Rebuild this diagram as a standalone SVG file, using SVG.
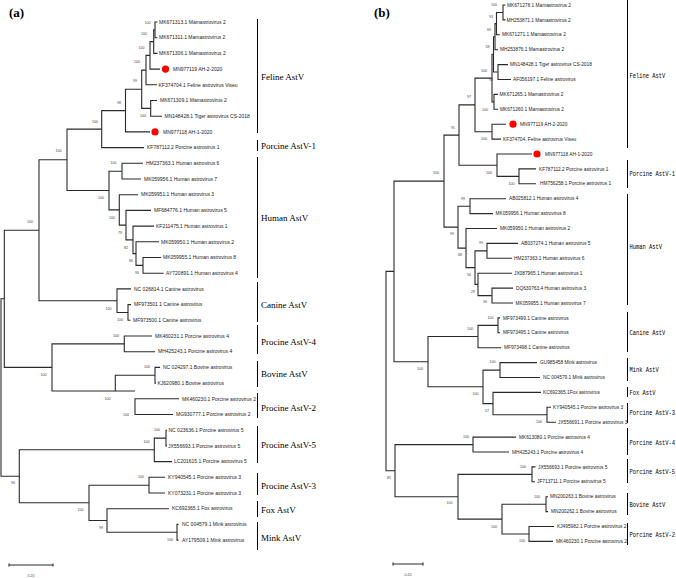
<svg xmlns="http://www.w3.org/2000/svg" width="676" height="578" viewBox="0 0 676 578">
<style>
.br{fill:none;stroke:#2a2a2a;stroke-width:1.1}
.bar{stroke:#000;stroke-width:1}
.la{font-family:"Liberation Sans",Arial,sans-serif;font-size:5px;fill:#222}
.lb{font-family:"Liberation Sans",Arial,sans-serif;font-size:4.8px;fill:#222}
.bs{font-family:"Liberation Sans",Arial,sans-serif;font-size:3.6px;fill:#444;text-anchor:middle}
.ga{font-family:"Liberation Serif","Times New Roman",serif;font-size:9px;fill:#000}
.gb{font-family:"Liberation Mono","Courier New",monospace;font-size:6.8px;fill:#000}
.dot{fill:#f00}
.pl{font-family:"Liberation Serif","Times New Roman",serif;font-size:13px;font-weight:bold;fill:#000}
</style>
<rect width="676" height="578" fill="#fff"/>
<text class="pl" x="9" y="17">(a)</text>
<text class="pl" x="374" y="17">(b)</text>

<g id="connectors">
<!-- panel a -->
<path class="br" d="M157.5 22H155V37.7H157.5"/>
<path class="br" d="M155 29.9H153.7V53.4H157.5"/>
<path class="br" d="M153.7 41.6H150V69.1H160"/>
<path class="br" d="M150 55.4H146V84.8H157"/>
<path class="br" d="M157 100.5H150.7V116.2H162"/>
<path class="br" d="M146 70.1H141.7V108.4H150.7"/>
<path class="br" d="M141.7 89.2H125.5V131.9H150"/>
<path class="br" d="M125.5 110.6H101.7V147.6H144"/>
<path class="br" d="M143 163.3H122V179H141"/>
<path class="br" d="M161 257.5H143V273.2H163.5"/>
<path class="br" d="M159 241.8H136V265.4H143"/>
<path class="br" d="M154 226.1H133V253.6H136"/>
<path class="br" d="M151 210.4H126V239.9H133"/>
<path class="br" d="M138 194.7H119.3V225.1H126"/>
<path class="br" d="M122 171.2H109V209.9H119.3"/>
<path class="br" d="M101.7 129.1H67V190.5H109"/>
<path class="br" d="M131 304.6H128V320.3H130.5"/>
<path class="br" d="M131 288.9H117V312.5H128"/>
<path class="br" d="M67 159.8H39V300.7H117"/>
<path class="br" d="M152 336H124.3V351.7H155"/>
<path class="br" d="M160 367.4H155V383.1H156"/>
<path class="br" d="M179 398.8H135V414.5H173"/>
<path class="br" d="M155 375.3H115.3V391H135"/>
<path class="br" d="M124.3 343.9H52V391H115.3"/>
<path class="br" d="M39 230.3H4.3V367.4H52"/>
<path class="br" d="M167 430.2H166V445.9H167"/>
<path class="br" d="M166 438.1H154.3V461.6H172"/>
<path class="br" d="M165 477.3H149V493H165"/>
<path class="br" d="M178.5 524.4H177V540.1H178.5"/>
<path class="br" d="M169 508.7H107V532.3H177"/>
<path class="br" d="M149 485.2H89V520.5H107"/>
<path class="br" d="M154.3 449.8H19.3V502.8H89"/>
<path class="br" d="M4.3 298.8H1V476.3H19.3"/>
<!-- panel b -->
<path class="br" d="M505.5 5H503V19.9H505.5"/>
<path class="br" d="M503 12.5H496.5V34.8H500"/>
<path class="br" d="M496.5 23.6H495V49.7H498"/>
<path class="br" d="M508 64.6H498V79.5H511"/>
<path class="br" d="M495 36.7H493.5V72H498"/>
<path class="br" d="M498 94.4H494V109.3H498"/>
<path class="br" d="M493.5 54.3H492V101.9H494"/>
<path class="br" d="M506 124.2H492V139.1H501"/>
<path class="br" d="M492 78.1H475V131.7H492"/>
<path class="br" d="M536 168.9H519V183.8H536"/>
<path class="br" d="M532 154H497V176.4H519"/>
<path class="br" d="M475 104.9H459V165.2H497"/>
<path class="br" d="M506 198.7H470V213.6H493"/>
<path class="br" d="M518 243.4H487V258.3H512"/>
<path class="br" d="M513 288.1H492V303H513"/>
<path class="br" d="M512 273.2H478V295.6H492"/>
<path class="br" d="M487 250.9H475V284.4H478"/>
<path class="br" d="M497 228.5H466V267.6H475"/>
<path class="br" d="M470 206.2H458V248.1H466"/>
<path class="br" d="M459 135.1H444V227.1H458"/>
<path class="br" d="M500 317.9H498V332.8H500"/>
<path class="br" d="M498 325.4H478V347.7H501"/>
<path class="br" d="M537 362.6H500V377.5H540"/>
<path class="br" d="M551 407.3H547V422.2H556"/>
<path class="br" d="M541 392.4H493V414.8H547"/>
<path class="br" d="M500 370.1H483V403.6H493"/>
<path class="br" d="M478 336.5H428V386.8H483"/>
<path class="br" d="M444 181.1H394V361.7H428"/>
<path class="br" d="M516 437.1H473V452H509"/>
<path class="br" d="M535.5 466.9H532V481.8H535"/>
<path class="br" d="M548 496.7H546V511.6H548"/>
<path class="br" d="M554 526.5H529V541.4H553"/>
<path class="br" d="M546 504.2H502V534H529"/>
<path class="br" d="M532 474.4H458V519.1H502"/>
<path class="br" d="M473 444.6H395V496.8H458"/>
<path class="br" d="M394 271.4H386V470.7H395"/>
<!-- scale bars -->
<path class="br" d="M9 565H53M9 563.5V566.5M53 563.5V566.5" stroke="#777"/>
<path class="br" d="M393 564H423M393 562.5V565.5M423 562.5V565.5" stroke="#777"/>
</g>
<text class="bs" x="31" y="577">0.20</text>
<text class="bs" x="408" y="576">0.20</text>

<g id="bootstrap-a">
<text class="bs" x="147.5" y="24.3">100</text>
<text class="bs" x="144" y="34.8">100</text>
<text class="bs" x="141.5" y="48.8">100</text>
<text class="bs" x="137" y="63.3">100</text>
<text class="bs" x="135" y="82.3">99</text>
<text class="bs" x="119" y="103.8">98</text>
<text class="bs" x="143" y="117.3">100</text>
<text class="bs" x="95" y="123.3">100</text>
<text class="bs" x="58.5" y="152.3">100</text>
<text class="bs" x="113.5" y="164.3">100</text>
<text class="bs" x="101" y="199.3">100</text>
<text class="bs" x="112" y="218.8">100</text>
<text class="bs" x="120" y="233.8">79</text>
<text class="bs" x="126" y="249.3">82</text>
<text class="bs" x="131" y="262.3">86</text>
<text class="bs" x="137" y="274.3">96</text>
<text class="bs" x="30" y="223.3">100</text>
<text class="bs" x="108.5" y="310.3">100</text>
<text class="bs" x="120" y="321.3">100</text>
<text class="bs" x="116" y="337.3">100</text>
<text class="bs" x="43.5" y="376.3">100</text>
<text class="bs" x="147" y="368.3">100</text>
<text class="bs" x="107.5" y="399.8">100</text>
<text class="bs" x="126" y="415.8">100</text>
<text class="bs" x="157" y="431.3">100</text>
<text class="bs" x="146.5" y="443.3">100</text>
<text class="bs" x="13" y="484.3">96</text>
<text class="bs" x="141" y="478.3">100</text>
<text class="bs" x="80.5" y="511.3">100</text>
<text class="bs" x="101" y="529.3">99</text>
<text class="bs" x="170" y="541.3">100</text>
</g>

<g id="bootstrap-b">
<text class="bs" x="494" y="6.3">100</text>
<text class="bs" x="491" y="18.3">93</text>
<text class="bs" x="489" y="30.8">69</text>
<text class="bs" x="487.5" y="48.3">58</text>
<text class="bs" x="484" y="72.3">100</text>
<text class="bs" x="491" y="80.8">94</text>
<text class="bs" x="485" y="110.8">100</text>
<text class="bs" x="484" y="140.3">100</text>
<text class="bs" x="469" y="98.3">97</text>
<text class="bs" x="453" y="129.3">95</text>
<text class="bs" x="489" y="174.3">100</text>
<text class="bs" x="511.5" y="185.3">100</text>
<text class="bs" x="436" y="174.3">100</text>
<text class="bs" x="463" y="200.3">99</text>
<text class="bs" x="452" y="235.3">99</text>
<text class="bs" x="460" y="256.3">68</text>
<text class="bs" x="481" y="244.3">99</text>
<text class="bs" x="469" y="276.3">56</text>
<text class="bs" x="473" y="293.3">29</text>
<text class="bs" x="485" y="303.3">90</text>
<text class="bs" x="490.5" y="319.3">100</text>
<text class="bs" x="470" y="330.3">100</text>
<text class="bs" x="420" y="369.8">100</text>
<text class="bs" x="492.5" y="363.3">100</text>
<text class="bs" x="475.5" y="394.8">100</text>
<text class="bs" x="487" y="411.8">57</text>
<text class="bs" x="539" y="423.3">100</text>
<text class="bs" x="466" y="438.3">100</text>
<text class="bs" x="389" y="479.3">85</text>
<text class="bs" x="449.5" y="504.3">100</text>
<text class="bs" x="523" y="467.8">100</text>
<text class="bs" x="537" y="497.8">100</text>
<text class="bs" x="494" y="528.3">100</text>
<text class="bs" x="522" y="542.3">100</text>
</g>

<!-- panel a leaves -->
<g id="a-MK671313"><text class="la" x="159" y="23.7">MK671313.1 Mamastrovirus 2</text></g>
<g id="a-MK671311"><text class="la" x="159" y="39.4">MK671311.1 Mamastrovirus 2</text></g>
<g id="a-MK671306"><text class="la" x="159" y="55.1">MK671306.1 Mamastrovirus 2</text></g>
<g id="a-AH2"><circle class="dot" cx="165.5" cy="69.1" r="3.6"/><text class="la" x="173" y="70.8">MN977119 AH-2-2020</text></g>
<g id="a-KF374704"><text class="la" x="158.5" y="86.5">KF374704.1 Feline astrovirus Viseu</text></g>
<g id="a-MK671309"><text class="la" x="160" y="102.2">MK671309.1 Mamastrovirus 2</text></g>
<g id="a-MN148428"><text class="la" x="164.5" y="117.9">MN148428.1 Tiger astrovirus CS-2018</text></g>
<g id="a-AH1"><circle class="dot" cx="155" cy="131.9" r="3.6"/><text class="la" x="163" y="133.6">MN977118 AH-1-2020</text></g>
<g id="a-KF787112"><text class="la" x="147" y="149.3">KF787112.2 Porcine astrovirus 1</text></g>
<g id="a-HM237363"><text class="la" x="146" y="165">HM237363.1 Human astrovirus 6</text></g>
<g id="a-MK059956"><text class="la" x="144" y="180.7">MK059956.1 Human astrovirus 7</text></g>
<g id="a-MK059951"><text class="la" x="141" y="196.4">MK059951.1 Human astrovirus 3</text></g>
<g id="a-MF684776"><text class="la" x="154" y="212.1">MF684776.1 Human astrovirus 5</text></g>
<g id="a-KF211475"><text class="la" x="156" y="227.8">KF211475.1 Human astrovirus 1</text></g>
<g id="a-MK059950"><text class="la" x="161" y="243.5">MK059950.1 Human astrovirus 2</text></g>
<g id="a-MK059955"><text class="la" x="163" y="259.2">MK059955.1 Human astrovirus 8</text></g>
<g id="a-AY720891"><text class="la" x="166" y="274.9">AY720891.1 Human astrovirus 4</text></g>
<g id="a-NC026814"><text class="la" x="134" y="290.6">NC 026814.1 Canine astrovirus</text></g>
<g id="a-MF973501"><text class="la" x="134" y="306.3">MF973501.1 Canine astrovirus</text></g>
<g id="a-MF973500"><text class="la" x="133" y="322">MF973500.1 Canine astrovirus</text></g>
<g id="a-MK460231"><text class="la" x="155" y="337.7">MK460231.1 Porcine astrovirus 4</text></g>
<g id="a-MH425243"><text class="la" x="158" y="353.4">MH425243.1 Porcine astrovirus 4</text></g>
<g id="a-NC024297"><text class="la" x="163" y="369.1">NC 024297.1 Bovine astrovirus</text></g>
<g id="a-KJ620980"><text class="la" x="157.5" y="384.8">KJ620980.1 Bovine astrovirus</text></g>
<g id="a-MK460230"><text class="la" x="182" y="400.5">MK460230.1 Porcine astrovirus 2</text></g>
<g id="a-MG930777"><text class="la" x="176" y="416.2">MG930777.1 Porcine astrovirus 2</text></g>
<g id="a-NC023636"><text class="la" x="168.5" y="431.9">NC 023636.1 Porcine astrovirus 5</text></g>
<g id="a-JX556693"><text class="la" x="168" y="447.6">JX556693.1 Porcine astrovirus 5</text></g>
<g id="a-LC201615"><text class="la" x="174" y="463.3">LC201615.1 Porcine astrovirus 5</text></g>
<g id="a-KY940545"><text class="la" x="168" y="479">KY940545.1 Porcine astrovirus 3</text></g>
<g id="a-KY073231"><text class="la" x="168" y="494.7">KY073231.1 Porcine astrovirus 3</text></g>
<g id="a-KC692365"><text class="la" x="172" y="510.4">KC692365.1 Fox astrovirus</text></g>
<g id="a-NC004579"><text class="la" x="182" y="526.1">NC 004579.1 Mink astrovirus</text></g>
<g id="a-AY179509"><text class="la" x="182" y="541.8">AY179509.1 Mink astrovirus</text></g>

<!-- panel a clade labels -->
<g id="a-feline"><line class="bar" x1="257.5" y1="19" x2="257.5" y2="133"/><text class="ga" x="261" y="79.5">Feline AstV</text></g>
<g id="a-porcine1"><line class="bar" x1="257.5" y1="140" x2="257.5" y2="151"/><text class="ga" x="261" y="149">Porcine AstV-1</text></g>
<g id="a-human"><line class="bar" x1="257.5" y1="157" x2="257.5" y2="278"/><text class="ga" x="261" y="221">Human AstV</text></g>
<g id="a-canine"><line class="bar" x1="257.5" y1="282" x2="257.5" y2="322"/><text class="ga" x="261" y="308">Canine AstV</text></g>
<g id="a-procine4"><line class="bar" x1="257.5" y1="325" x2="257.5" y2="354"/><text class="ga" x="261" y="345">Procine AstV-4</text></g>
<g id="a-bovine"><line class="bar" x1="257.5" y1="361" x2="257.5" y2="387"/><text class="ga" x="261" y="377">Bovine AstV</text></g>
<g id="a-procine2"><line class="bar" x1="257.5" y1="393" x2="257.5" y2="418"/><text class="ga" x="261" y="411">Procine AstV-2</text></g>
<g id="a-procine5"><line class="bar" x1="257.5" y1="426" x2="257.5" y2="463"/><text class="ga" x="261" y="448">Procine AstV-5</text></g>
<g id="a-procine3"><line class="bar" x1="257.5" y1="473" x2="257.5" y2="495"/><text class="ga" x="261" y="489">Procine AstV-3</text></g>
<g id="a-fox"><line class="bar" x1="257.5" y1="501" x2="257.5" y2="517"/><text class="ga" x="261" y="513">Fox AstV</text></g>
<g id="a-mink"><line class="bar" x1="257.5" y1="522" x2="257.5" y2="550"/><text class="ga" x="261" y="541">Mink AstV</text></g>

<!-- panel b leaves -->
<g id="b-MK671278"><text class="lb" x="507" y="6.6">MK671278.1 Mamastrovirus 2</text></g>
<g id="b-MH253871"><text class="lb" x="506.5" y="21.5">MH253871.1 Mamastrovirus 2</text></g>
<g id="b-MK671271"><text class="lb" x="502" y="36.4">MK671271.1 Mamastrovirus 2</text></g>
<g id="b-MH253876"><text class="lb" x="500" y="51.3">MH253876.1 Mamastrovirus 2</text></g>
<g id="b-MN148428"><text class="lb" x="510" y="66.2">MN148428.1 Tiger astrovirus CS-2018</text></g>
<g id="b-AF056197"><text class="lb" x="513" y="81.1">AF056197.1 Feline astrovirus</text></g>
<g id="b-MK671265"><text class="lb" x="499.5" y="96">MK671265.1 Mamastrovirus 2</text></g>
<g id="b-MK671260"><text class="lb" x="500" y="110.9">MK671260.1 Mamastrovirus 2</text></g>
<g id="b-AH2"><circle class="dot" cx="513" cy="124.2" r="3.6"/><text class="lb" x="520" y="125.8">MN977119 AH-2-2020</text></g>
<g id="b-KF374704"><text class="lb" x="503" y="140.7">KF374704. Feline astrovirus Viseu</text></g>
<g id="b-AH1"><circle class="dot" cx="537" cy="154" r="3.6"/><text class="lb" x="545" y="155.6">MN977118 AH-1-2020</text></g>
<g id="b-KF787112"><text class="lb" x="539" y="170.5">KF787112.2 Porcine astrovirus 1</text></g>
<g id="b-HM756258"><text class="lb" x="540" y="185.4">HM756258.1 Porcine astrovirus 1</text></g>
<g id="b-AB025812"><text class="lb" x="509" y="200.3">AB025812.1 Human astrovirus 4</text></g>
<g id="b-MK059956"><text class="lb" x="495.5" y="215.2">MK059956.1 Human astrovirus 8</text></g>
<g id="b-MK059950"><text class="lb" x="500" y="230.1">MK059950.1 Human astrovirus 2</text></g>
<g id="b-AB037274"><text class="lb" x="521" y="245">AB037274.1 Human astrovirus 5</text></g>
<g id="b-HM237363"><text class="lb" x="514" y="259.9">HM237363.1 Human astrovirus 6</text></g>
<g id="b-JX087965"><text class="lb" x="514" y="274.8">JX087965.1 Human astrovirus 1</text></g>
<g id="b-DQ630763"><text class="lb" x="516" y="289.7">DQ630763.4 Human astrovirus 3</text></g>
<g id="b-MK059955"><text class="lb" x="515.5" y="304.6">MK059955.1 Human astrovirus 7</text></g>
<g id="b-MF973499"><text class="lb" x="503" y="319.5">MF973499.1 Canine astrovirus</text></g>
<g id="b-MF973495"><text class="lb" x="503" y="334.4">MF973495.1 Canine astrovirus</text></g>
<g id="b-MF973498"><text class="lb" x="504" y="349.3">MF973498.1 Canine astrovirus</text></g>
<g id="b-GU985458"><text class="lb" x="540" y="364.2">GU985458 Mink astrovirus</text></g>
<g id="b-NC004579"><text class="lb" x="543" y="379.1">NC 004579.1 Mink astrovirus</text></g>
<g id="b-KC692365"><text class="lb" x="543" y="394">KC692365.1Fox astrovirus</text></g>
<g id="b-KY940545"><text class="lb" x="553" y="408.9">KY940545.1 Porcine astrovirus 3</text></g>
<g id="b-JX556691"><text class="lb" x="558" y="423.8">JX556691.1 Porcine astrovirus 3</text></g>
<g id="b-MK613080"><text class="lb" x="519" y="438.7">MK613080.1 Porcine astrovirus 4</text></g>
<g id="b-MH425243"><text class="lb" x="512" y="453.6">MH425243.1 Porcine astrovirus 4</text></g>
<g id="b-JX556693"><text class="lb" x="538" y="468.5">JX556693.1 Porcine astrovirus 5</text></g>
<g id="b-JF713711"><text class="lb" x="537" y="483.4">JF713711.1 Porcine astrovirus 5</text></g>
<g id="b-MN200263"><text class="lb" x="550" y="498.3">MN200263.1 Bovine astrovirus</text></g>
<g id="b-MN200262"><text class="lb" x="551" y="513.2">MN200262.1 Bovine astrovirus</text></g>
<g id="b-KJ495982"><text class="lb" x="557" y="528.1">KJ495982.1 Porcine astrovirus 2</text></g>
<g id="b-MK460230"><text class="lb" x="556" y="543">MK460230.1 Porcine astrovirus 2</text></g>

<!-- panel b clade labels -->
<g id="b-feline"><line class="bar" x1="627.5" y1="0" x2="627.5" y2="148"/><text class="gb" transform="translate(629.5 77.5) scale(0.8 1)">Feline AstV</text></g>
<g id="b-porcine1"><line class="bar" x1="627.5" y1="160" x2="627.5" y2="188"/><text class="gb" transform="translate(629.5 175.5) scale(0.8 1)">Porcine AstV-1</text></g>
<g id="b-human"><line class="bar" x1="627.5" y1="194" x2="627.5" y2="305"/><text class="gb" transform="translate(629.5 248.5) scale(0.8 1)">Human AstV</text></g>
<g id="b-canine"><line class="bar" x1="627.5" y1="312" x2="627.5" y2="352"/><text class="gb" transform="translate(629.5 334.5) scale(0.8 1)">Canine AstV</text></g>
<g id="b-mink"><line class="bar" x1="627.5" y1="358" x2="627.5" y2="381"/><text class="gb" transform="translate(629.5 371.5) scale(0.8 1)">Mink AstV</text></g>
<g id="b-fox"><line class="bar" x1="627.5" y1="387" x2="627.5" y2="397"/><text class="gb" transform="translate(629.5 394.5) scale(0.8 1)">Fox AstV</text></g>
<g id="b-porcine3"><line class="bar" x1="627.5" y1="403" x2="627.5" y2="423"/><text class="gb" transform="translate(629.5 414.5) scale(0.8 1)">Porcine AstV-3</text></g>
<g id="b-porcine4"><line class="bar" x1="627.5" y1="428" x2="627.5" y2="455"/><text class="gb" transform="translate(629.5 444.5) scale(0.8 1)">Porcine AstV-4</text></g>
<g id="b-porcine5"><line class="bar" x1="627.5" y1="459" x2="627.5" y2="483"/><text class="gb" transform="translate(629.5 473.5) scale(0.8 1)">Porcine AstV-5</text></g>
<g id="b-bovine"><line class="bar" x1="627.5" y1="493" x2="627.5" y2="515"/><text class="gb" transform="translate(629.5 506.5) scale(0.8 1)">Bovine AstV</text></g>
<g id="b-porcine2"><line class="bar" x1="627.5" y1="523" x2="627.5" y2="545"/><text class="gb" transform="translate(629.5 536.5) scale(0.8 1)">Porcine AstV-2</text></g>
</svg>
